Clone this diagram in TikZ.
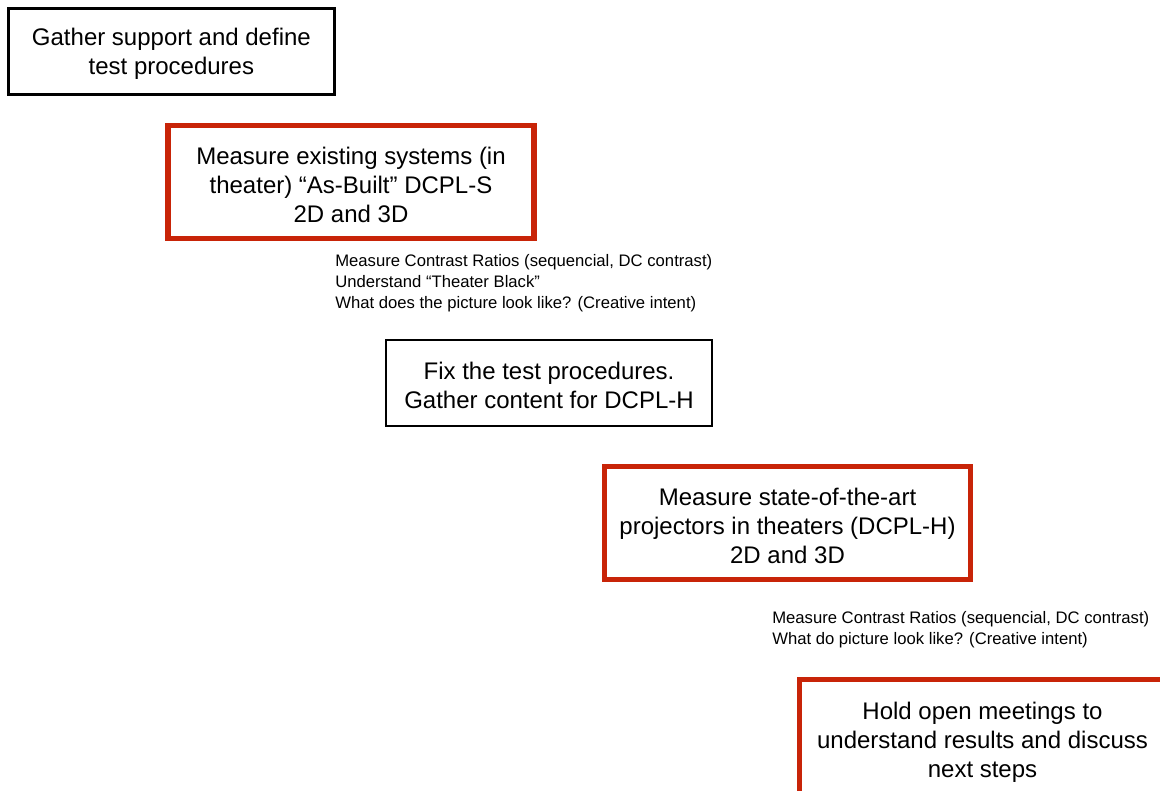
\documentclass[tikz,border=0pt]{standalone}
\usepackage{fontspec}
\setmainfont{Liberation Sans}
\definecolor{boxred}{RGB}{200,36,8}
\newcommand\toppad{\rule{0pt}{17.4pt}}
\tikzset{
  blackbox/.style={draw=black, line width=1.85pt, minimum width=326*0.75pt, minimum height=86*0.75pt,
    inner sep=0pt, align=center, font=\fontsize{18pt}{21.75pt}\selectfont},
  redbox/.style={draw=boxred, line width=4pt, minimum width=366*0.75pt, minimum height=113*0.75pt,
    inner sep=0pt, align=center, font=\fontsize{18pt}{21.75pt}\selectfont},
  notes/.style={anchor=north west, inner sep=0pt, align=left, font=\fontsize{12.5pt}{15.5pt}\selectfont}
}
\begin{document}
\begin{tikzpicture}[x=0.75pt,y=-0.75pt]
\useasboundingbox (0,0) rectangle (1160,790);
\begin{scope}
\clip (0,0) rectangle (1160,790);
\node[blackbox] (b1) at (171.4,51.3) {\toppad Gather support and define\\test procedures};
\node[redbox] (b2) at (351,182) {\toppad Measure existing systems (in\\theater) “As-Built” DCPL-S\\2D and 3D};
\node[notes] (n1) at (335,254.5) {Measure Contrast Ratios (sequencial, DC contrast)\\Understand “Theater Black”\\What does the picture look like? (Creative intent)};
\node[blackbox] (b3) at (549,383) {\toppad Fix the test procedures.\\Gather content for DCPL-H};
\node[redbox] (b4) at (787.5,523) {\toppad Measure state-of-the-art\\projectors in theaters (DCPL-H)\\2D and 3D};
\node[notes] (n2) at (772,611.5) {Measure Contrast Ratios (sequencial, DC contrast)\\What do picture look like? (Creative intent)};
\node[redbox, minimum height=119*0.75pt] (b5) at (982.5,739) {\toppad Hold open meetings to\\understand results and discuss\\next steps};
\end{scope}
\end{tikzpicture}
\end{document}
